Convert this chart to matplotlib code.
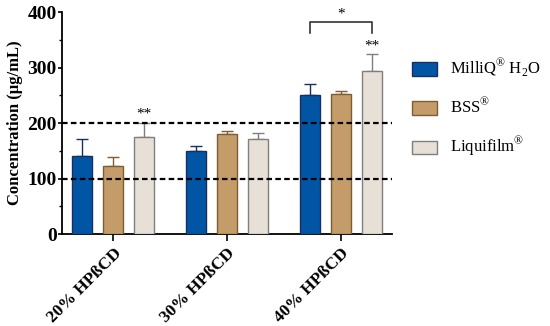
import numpy as np
import matplotlib.pyplot as plt
from matplotlib.ticker import MultipleLocator
from matplotlib.patches import Patch

plt.rcParams['font.family'] = ['Liberation Serif', 'DejaVu Serif']
plt.rcParams['mathtext.fontset'] = 'custom'
plt.rcParams['mathtext.rm'] = 'Liberation Serif'

# data
grupos = ['20% HPßCD', '30% HPßCD', '40% HPßCD']
series = ['MilliQ$^{®}$ H$_{2}$O', 'BSS$^{®}$', 'Liquifilm$^{®}$']
medias = [[140, 149, 251],
          [123, 181, 252],
          [174, 171, 293]]
erros = [[32, 9, 20],
         [15, 5, 6],
         [27, 11, 31]]
cores = ['#0055A5', '#C49C6A', '#E7E0D6']
bordas = ['#1B2F5E', '#7D5E32', '#7F7F7F']

fig = plt.figure(figsize=(5.5, 3.26), dpi=100)
ax = fig.add_axes([0.113, 0.282, 0.600, 0.681])

x = np.arange(len(grupos))
larg = 0.175
desl = 0.272
for i in range(3):
    pos = x + (i - 1) * desl
    ax.bar(pos, medias[i], larg, color=cores[i], edgecolor=bordas[i],
           linewidth=1.0, zorder=3)
    ax.errorbar(pos, medias[i], yerr=[np.zeros(3), erros[i]], fmt='none',
                ecolor=bordas[i], elinewidth=1.0, capsize=4, capthick=1.0,
                zorder=2)

for y in [100, 200]:
    ax.axhline(y, color='black', linestyle=(0, (2.5, 1.5)), linewidth=1.6,
               zorder=4)

# significance marks
for g in [0, 2]:
    topo = medias[2][g] + erros[2][g]
    ax.text(x[g] + desl, topo + 3, '**', ha='center', va='bottom',
            fontsize=11)
ax.plot([x[2] - desl, x[2] - desl, x[2] + desl, x[2] + desl],
        [362, 382, 382, 362], color='#333333', linewidth=1.2)
ax.text(x[2], 384, '*', ha='center', va='bottom', fontsize=11)

ax.set_xlim(-0.45, 2.45)
ax.set_ylim(0, 400)
ax.yaxis.set_major_locator(MultipleLocator(100))
ax.yaxis.set_minor_locator(MultipleLocator(50))
ax.set_xticks(x)
ax.set_xticklabels(grupos, rotation=45, ha='right', rotation_mode='anchor',
                   fontsize=12.5, fontweight='bold')
for t in ax.get_yticklabels():
    t.set_fontweight('bold')
    t.set_fontsize(14)
ax.tick_params(axis='x', direction='out', width=1.2, length=5, pad=3)
ax.tick_params(axis='y', direction='out', width=1.2, length=3, pad=1)
ax.tick_params(axis='y', which='minor', width=1.0, length=2)
ax.set_ylabel('Concentration (µg/mL)', fontsize=12, fontweight='bold',
              labelpad=3)
for lado in ['top', 'right']:
    ax.spines[lado].set_visible(False)
for lado in ['left', 'bottom']:
    ax.spines[lado].set_linewidth(1.3)

alcas = [Patch(facecolor=cores[i], edgecolor=bordas[i]) for i in range(3)]
fig.legend(alcas, series, loc='upper left', bbox_to_anchor=(0.722, 0.87),
           frameon=False, fontsize=12, handlelength=1.5, handleheight=0.9,
           labelspacing=1.05, handletextpad=0.8)

fig.savefig('out.png', dpi=100)
